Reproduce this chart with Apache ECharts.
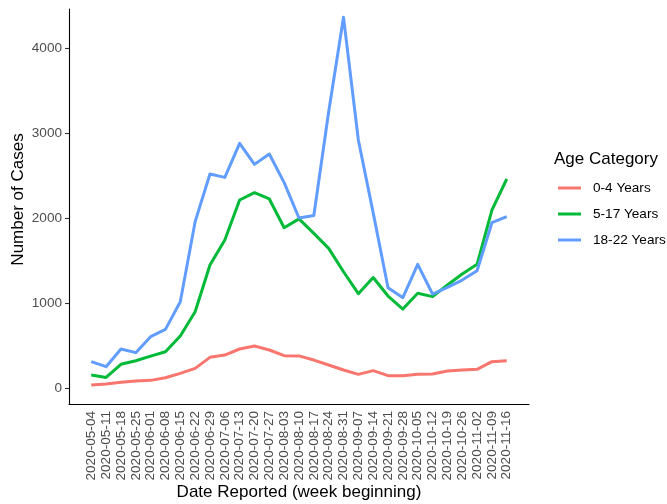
<!DOCTYPE html>
<html>
<head>
<meta charset="utf-8">
<script src="https://cdn.jsdelivr.net/npm/echarts@6/dist/echarts.min.js"></script>
<style>
html,body{margin:0;padding:0;background:#fff;}
#chart{width:667px;height:504px;}
</style>
</head>
<body>
<div id="chart"></div>
<script>
var dates = ["2020-05-04","2020-05-11","2020-05-18","2020-05-25","2020-06-01","2020-06-08","2020-06-15","2020-06-22","2020-06-29","2020-07-06","2020-07-13","2020-07-20","2020-07-27","2020-08-03","2020-08-10","2020-08-17","2020-08-24","2020-08-31","2020-09-07","2020-09-14","2020-09-21","2020-09-28","2020-10-05","2020-10-12","2020-10-19","2020-10-26","2020-11-02","2020-11-09","2020-11-16"];
var age0to4 = [35,47,67,82,90,121,173,231,361,388,459,494,447,380,378,329,271,212,161,205,145,145,161,165,200,212,220,310,321];
var age5to17 = [153,125,279,321,376,427,612,898,1447,1741,2212,2298,2224,1886,1990,1820,1643,1368,1110,1300,1082,929,1114,1075,1212,1341,1455,2094,2459];
var age18to22 = [310,251,459,416,604,690,1015,1957,2518,2478,2878,2631,2753,2416,2000,2030,3250,4361,2918,2060,1180,1063,1455,1106,1184,1270,1380,1945,2016];
var seriesNames = ["0-4 Years","5-17 Years","18-22 Years"];
var yTicks = [0,1000,2000,3000,4000];

var colors = ["#F8766D","#00BA38","#619CFF"];
var axisCats = [""].concat(dates, [""]);
function pad(arr){ return [null].concat(arr, [null]); }
var lastIdx = axisCats.length - 1;
function showIdx(i){ return i > 0 && i < lastIdx; }

var chart = echarts.init(document.getElementById('chart'));
var FONT = "Liberation Sans";
chart.setOption({
  animation: false,
  backgroundColor: '#ffffff',
  textStyle: { fontFamily: FONT },
  title: {
    text: 'Age Category',
    left: 554,
    top: 151,
    padding: 0,
    textStyle: { fontFamily: FONT, fontSize: 17, fontWeight: 'normal', color: '#000' }
  },
  legend: {
    orient: 'vertical',
    left: 558,
    top: 180,
    padding: 0,
    itemWidth: 23,
    itemHeight: 3,
    itemGap: 10,
    icon: 'rect',
    data: seriesNames,
    textStyle: { fontFamily: FONT, fontSize: 13.6, color: '#000', lineHeight: 16, padding: [0,0,0,7] }
  },
  grid: { left: 69, right: 138, top: 9, bottom: 100, containLabel: false, outerBoundsMode: 'none' },
  xAxis: {
    type: 'category',
    data: axisCats,
    boundaryGap: true,
    name: 'Date Reported (week beginning)',
    nameLocation: 'middle',
    nameGap: 80,
    nameMoveOverlap: false,
    nameTextStyle: { fontFamily: FONT, fontSize: 17, color: '#000' },
    axisLine: { onZero: false, lineStyle: { color: '#000', width: 1.1 } },
    axisTick: { alignWithLabel: true, length: 4, interval: function(i){ return showIdx(i); }, lineStyle: { color: '#333', width: 1.1 } },
    axisLabel: { interval: function(i){ return showIdx(i); }, rotate: 90, margin: 7, fontFamily: FONT, fontSize: 13.6, color: '#4D4D4D' },
    splitLine: { show: false }
  },
  yAxis: {
    type: 'value',
    min: -188,
    max: 4459,
    name: 'Number of Cases',
    nameLocation: 'middle',
    nameGap: 42,
    nameMoveOverlap: false,
    nameTextStyle: { fontFamily: FONT, fontSize: 17, color: '#000', padding: [0,0,0,14] },
    axisLine: { show: true, onZero: false, lineStyle: { color: '#000', width: 1.1 } },
    axisTick: { show: true, length: 4, customValues: yTicks, lineStyle: { color: '#333', width: 1.1 } },
    axisLabel: { customValues: yTicks, margin: 7, fontFamily: FONT, fontSize: 13.6, color: '#4D4D4D', formatter: function(v){ return String(v); } },
    splitLine: { show: false }
  },
  series: [
    { name: seriesNames[0], type: 'line', data: pad(age0to4), symbol: 'none', color: colors[0], lineStyle: { width: 3, color: colors[0], join: 'round' } },
    { name: seriesNames[1], type: 'line', data: pad(age5to17), symbol: 'none', color: colors[1], lineStyle: { width: 3, color: colors[1], join: 'round' } },
    { name: seriesNames[2], type: 'line', data: pad(age18to22), symbol: 'none', color: colors[2], lineStyle: { width: 3, color: colors[2], join: 'round' } }
  ]
});
</script>
</body>
</html>
